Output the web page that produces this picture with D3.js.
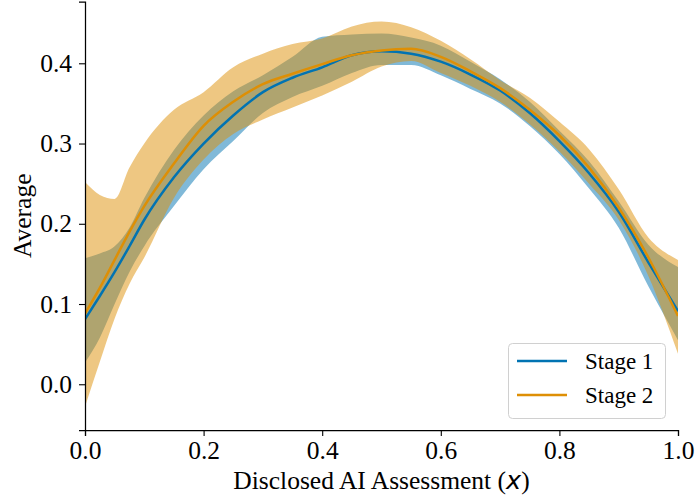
<!DOCTYPE html>
<html>
<head>
<meta charset="utf-8">
<script src="https://cdn.jsdelivr.net/npm/d3@7"></script>
<style>
  html, body { margin: 0; padding: 0; background: #fff; }
  svg { display: block; }
  svg text { font-family: "Liberation Serif", "Times New Roman", Times, "Nimbus Roman", "DejaVu Serif", serif; }
  svg text tspan.math { font-family: "DejaVu Sans", sans-serif; font-style: italic; }
</style>
</head>
<body>
<svg id="chart" width="696" height="502"></svg>
<script>
// Disclosed AI assessment levels (x)
const xs = [0, 0.025, 0.05, 0.075, 0.1, 0.15, 0.2, 0.25, 0.3, 0.35, 0.4, 0.45, 0.5,
            0.55, 0.6, 0.65, 0.7, 0.75, 0.8, 0.85, 0.9, 0.95, 1.0];

// Stage 1: mean and confidence band
const stage1Mean = [0.081, 0.110, 0.140, 0.172, 0.205, 0.258, 0.300, 0.335, 0.364, 0.382, 0.395, 0.410, 0.415,
                    0.412, 0.402, 0.386, 0.366, 0.338, 0.303, 0.263, 0.215, 0.152, 0.091];
const stage1Hi   = [0.157, 0.163, 0.172, 0.195, 0.232, 0.292, 0.335, 0.365, 0.385, 0.408, 0.433, 0.436, 0.437,
                    0.432, 0.422, 0.402, 0.380, 0.352, 0.316, 0.278, 0.228, 0.174, 0.146];
const stage1Lo   = [0.027, 0.058, 0.100, 0.140, 0.172, 0.222, 0.268, 0.303, 0.338, 0.358, 0.372, 0.388, 0.398,
                    0.398, 0.385, 0.368, 0.350, 0.322, 0.287, 0.244, 0.195, 0.122, 0.055];

// Stage 2: mean and confidence band
const stage2Mean = [0.088, 0.120, 0.155, 0.190, 0.222, 0.275, 0.322, 0.352, 0.374, 0.387, 0.399, 0.410, 0.416,
                    0.418, 0.408, 0.390, 0.369, 0.342, 0.310, 0.270, 0.220, 0.158, 0.085];
const stage2Hi   = [0.252, 0.236, 0.231, 0.270, 0.300, 0.342, 0.364, 0.395, 0.412, 0.424, 0.431, 0.446, 0.452,
                    0.445, 0.428, 0.405, 0.379, 0.357, 0.327, 0.293, 0.243, 0.183, 0.155];
const stage2Lo   = [-0.028, 0.028, 0.082, 0.125, 0.158, 0.232, 0.280, 0.312, 0.330, 0.345, 0.360, 0.377, 0.396,
                    0.403, 0.388, 0.372, 0.352, 0.324, 0.290, 0.250, 0.205, 0.135, 0.038];

const seriesNames = ["Stage 1", "Stage 2"];
const seriesColors = ["#0173b2", "#de8f05"];

const xTicks = [0, 0.2, 0.4, 0.6, 0.8, 1.0];
const yTicks = [0.0, 0.1, 0.2, 0.3, 0.4];

const svg = d3.select("#chart");
const W = 696, H = 502;
const margin = { left: 85, right: 18, top: 1.5, bottom: 72 };
const plotW = W - margin.left - margin.right;
const plotH = H - margin.top - margin.bottom;

const x = d3.scaleLinear().domain([0, 1]).range([margin.left, margin.left + plotW]);
const y = d3.scaleLinear().domain([-0.057, 0.477]).range([margin.top + plotH, margin.top]);

const series = [
  { name: seriesNames[0], color: seriesColors[0], mean: stage1Mean, lo: stage1Lo, hi: stage1Hi },
  { name: seriesNames[1], color: seriesColors[1], mean: stage2Mean, lo: stage2Lo, hi: stage2Hi }
];

const curve = d3.curveMonotoneX;

const area = d3.area()
  .x(d => x(d.x))
  .y0(d => y(d.lo))
  .y1(d => y(d.hi))
  .curve(curve);

const line = d3.line()
  .x(d => x(d.x))
  .y(d => y(d.m))
  .curve(curve);

svg.append("defs").append("clipPath").attr("id", "plot-clip")
  .append("rect")
  .attr("x", margin.left).attr("y", margin.top)
  .attr("width", plotW).attr("height", plotH);

const plot = svg.append("g").attr("clip-path", "url(#plot-clip)");

// confidence bands
series.forEach(s => {
  const pts = xs.map((xv, i) => ({ x: xv, lo: s.lo[i], hi: s.hi[i] }));
  plot.append("path")
    .attr("d", area(pts))
    .attr("fill", s.color)
    .attr("fill-opacity", 0.5)
    .attr("stroke", "none");
});

// mean lines
series.forEach(s => {
  const pts = xs.map((xv, i) => ({ x: xv, m: s.mean[i] }));
  plot.append("path")
    .attr("d", line(pts))
    .attr("fill", "none")
    .attr("stroke", s.color)
    .attr("stroke-width", 2.5);
});

// axes
const xAxis = d3.axisBottom(x).tickValues(xTicks).tickFormat(d3.format(".1f")).tickSizeOuter(0).tickSize(6).tickPadding(5);
const yAxis = d3.axisLeft(y).tickValues(yTicks).tickFormat(d3.format(".1f")).tickSizeOuter(0).tickSize(6).tickPadding(7);

const gx = svg.append("g").attr("transform", `translate(0,${margin.top + plotH})`).call(xAxis);
const gy = svg.append("g").attr("transform", `translate(${margin.left},0)`).call(yAxis);

[gx, gy].forEach(g => {
  g.attr("font-family", null).attr("font-size", null);
  g.select(".domain").attr("stroke", "#000").attr("stroke-width", 1.25);
  g.selectAll(".tick line").attr("stroke", "#000").attr("stroke-width", 1.1);
  g.selectAll(".tick text")
    .attr("fill", "#000")
    .style("font-size", "25.5px");
});

// axis titles
const xLabel = svg.append("text")
  .attr("x", margin.left + plotW / 2)
  .attr("y", 489)
  .attr("text-anchor", "middle")
  .style("font-size", "25.5px")
  .attr("fill", "#000");
xLabel.append("tspan").text("Disclosed AI Assessment (");
xLabel.append("tspan").attr("class", "math").text("x");
xLabel.append("tspan").text(")");

svg.append("text")
  .attr("transform", `translate(31,${margin.top + plotH / 2}) rotate(-90)`)
  .attr("text-anchor", "middle")
  .style("font-size", "25.5px")
  .attr("fill", "#000")
  .text("Average");

// legend
const leg = svg.append("g");
leg.append("rect")
  .attr("x", 508.5).attr("y", 343.5)
  .attr("width", 157).attr("height", 75)
  .attr("rx", 4)
  .attr("fill", "#fff").attr("fill-opacity", 0.8)
  .attr("stroke", "#d0d0d0").attr("stroke-width", 1);

series.forEach((s, i) => {
  const yy = 361 + i * 34;
  leg.append("line")
    .attr("x1", 517).attr("x2", 567)
    .attr("y1", yy).attr("y2", yy)
    .attr("stroke", s.color).attr("stroke-width", 2.5);
  leg.append("text")
    .attr("x", 585).attr("y", yy + 8)
    .style("font-size", "23px")
    .attr("fill", "#000")
    .text(s.name);
});
</script>
</body>
</html>
